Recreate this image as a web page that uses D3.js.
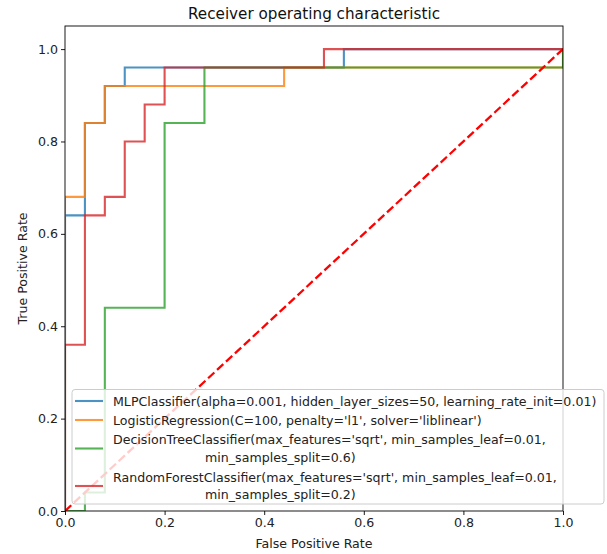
<!DOCTYPE html>
<html><head><meta charset="utf-8">
<script src="https://cdn.jsdelivr.net/npm/d3@7/dist/d3.min.js"></script>
<style>body{margin:0;background:#fff;} text{font-family:"DejaVu Sans",sans-serif;}</style>
</head><body>
<script>
const title = "Receiver operating characteristic";
const xLabel = "False Positive Rate";
const yLabel = "True Positive Rate";
const xTicks = [0, 0.2, 0.4, 0.6, 0.8, 1.0];
const yTicks = [0, 0.2, 0.4, 0.6, 0.8, 1.0];
const seriesNames = [
  ["MLPClassifier(alpha=0.001, hidden_layer_sizes=50, learning_rate_init=0.01)"],
  ["LogisticRegression(C=100, penalty='l1', solver='liblinear')"],
  ["DecisionTreeClassifier(max_features='sqrt', min_samples_leaf=0.01,", "                       min_samples_split=0.6)"],
  ["RandomForestClassifier(max_features='sqrt', min_samples_leaf=0.01,", "                       min_samples_split=0.2)"]
];
const colors = ["#1f77b4", "#ff7f0e", "#2ca02c", "#d62728"];
const mlpFpr = [0, 0, 0.04, 0.04, 0.08, 0.08, 0.12, 0.12, 0.56, 0.56, 1];
const mlpTpr = [0, 0.64, 0.64, 0.84, 0.84, 0.92, 0.92, 0.96, 0.96, 1, 1];
const lrFpr = [0, 0, 0.04, 0.04, 0.08, 0.08, 0.44, 0.44, 1, 1];
const lrTpr = [0, 0.68, 0.68, 0.84, 0.84, 0.92, 0.92, 0.96, 0.96, 1];
const dtFpr = [0, 0.04, 0.04, 0.08, 0.08, 0.2, 0.2, 0.28, 0.28, 1, 1];
const dtTpr = [0, 0, 0.04, 0.04, 0.44, 0.44, 0.84, 0.84, 0.96, 0.96, 1];
const rfFpr = [0, 0, 0.04, 0.04, 0.08, 0.08, 0.12, 0.12, 0.16, 0.16, 0.2, 0.2, 0.52, 0.52, 1];
const rfTpr = [0, 0.36, 0.36, 0.64, 0.64, 0.68, 0.68, 0.8, 0.8, 0.88, 0.88, 0.96, 0.96, 1, 1];
const fprs = [mlpFpr, lrFpr, dtFpr, rfFpr];
const tprs = [mlpTpr, lrTpr, dtTpr, rfTpr];

const W = 607, H = 554;
const L = 65, R = 563, T = 26, B = 511;
const FS = 12.6;
const svg = d3.select("body").append("svg").attr("width", W).attr("height", H);
const x = d3.scaleLinear().domain([0, 1]).range([L, R]);
const y = d3.scaleLinear().domain([0, 1.05]).range([B, T]);

svg.append("defs").append("clipPath").attr("id", "clip")
  .append("rect").attr("x", L).attr("y", T).attr("width", R - L).attr("height", B - T);

const plot = svg.append("g").attr("clip-path", "url(#clip)");
const line = d3.line().x(d => x(d[0])).y(d => y(d[1]));
fprs.forEach((f, i) => {
  const pts = f.map((v, j) => [v, tprs[i][j]]);
  plot.append("path").attr("d", line(pts)).attr("fill", "none")
    .attr("stroke", colors[i]).attr("stroke-width", 2.1).attr("stroke-opacity", 0.8)
    .attr("stroke-linejoin", "miter").attr("stroke-linecap", "square");
});
plot.append("path").attr("d", line([[0, 0], [1, 1]])).attr("fill", "none")
  .attr("stroke", "#ff0000").attr("stroke-width", 2.3).attr("stroke-dasharray", "8.5,3.7");

// axes
const xAxis = svg.append("g").attr("transform", `translate(0,${B})`)
  .call(d3.axisBottom(x).tickValues(xTicks).tickFormat(d3.format(".1f")).tickSizeOuter(0).tickSize(4));
const yAxis = svg.append("g").attr("transform", `translate(${L},0)`)
  .call(d3.axisLeft(y).tickValues(yTicks).tickFormat(d3.format(".1f")).tickSizeOuter(0).tickSize(4));
[xAxis, yAxis].forEach(a => {
  a.select(".domain").remove();
  a.selectAll("text").attr("font-size", FS).attr("fill", "#222").style("font-family", "DejaVu Sans");
  a.selectAll("line").attr("stroke", "#000").attr("stroke-width", 0.9);
});
xAxis.selectAll("text").attr("dy", "0.71em").attr("y", 7);
yAxis.selectAll("text").attr("x", -7);

// spines
svg.append("rect").attr("x", L).attr("y", T).attr("width", R - L).attr("height", B - T)
  .attr("fill", "none").attr("stroke", "#000").attr("stroke-width", 0.9);

svg.append("text").attr("x", (L + R) / 2).attr("y", 19).attr("text-anchor", "middle")
  .attr("font-size", 15.2).attr("fill", "#111").text(title);
svg.append("text").attr("x", (L + R) / 2).attr("y", 548).attr("text-anchor", "middle")
  .attr("font-size", FS).attr("fill", "#222").text(xLabel);
svg.append("text").attr("transform", `translate(27,${(T + B) / 2}) rotate(-90)`).attr("text-anchor", "middle")
  .attr("font-size", FS).attr("fill", "#222").text(yLabel);

// legend
const lg = svg.append("g");
lg.append("rect").attr("x", 72).attr("y", 389.5).attr("width", 532).attr("height", 114.5)
  .attr("rx", 3).attr("fill", "#fff").attr("fill-opacity", 0.8).attr("stroke", "#cccccc").attr("stroke-width", 1);
const rowY = [[405.5], [424.5], [444, 461.5], [481.5, 499]];
const handleY = [401, 420, 448.5, 486];
seriesNames.forEach((lines, i) => {
  lg.append("line").attr("x1", 75).attr("x2", 103).attr("y1", handleY[i]).attr("y2", handleY[i])
    .attr("stroke", colors[i]).attr("stroke-width", 2.1).attr("stroke-opacity", 0.8);
  lines.forEach((s, k) => {
    lg.append("text").attr("x", 113).attr("y", rowY[i][k]).attr("font-size", FS)
      .attr("fill", "#222").style("white-space", "pre").text(s);
  });
});
</script>
</body></html>
